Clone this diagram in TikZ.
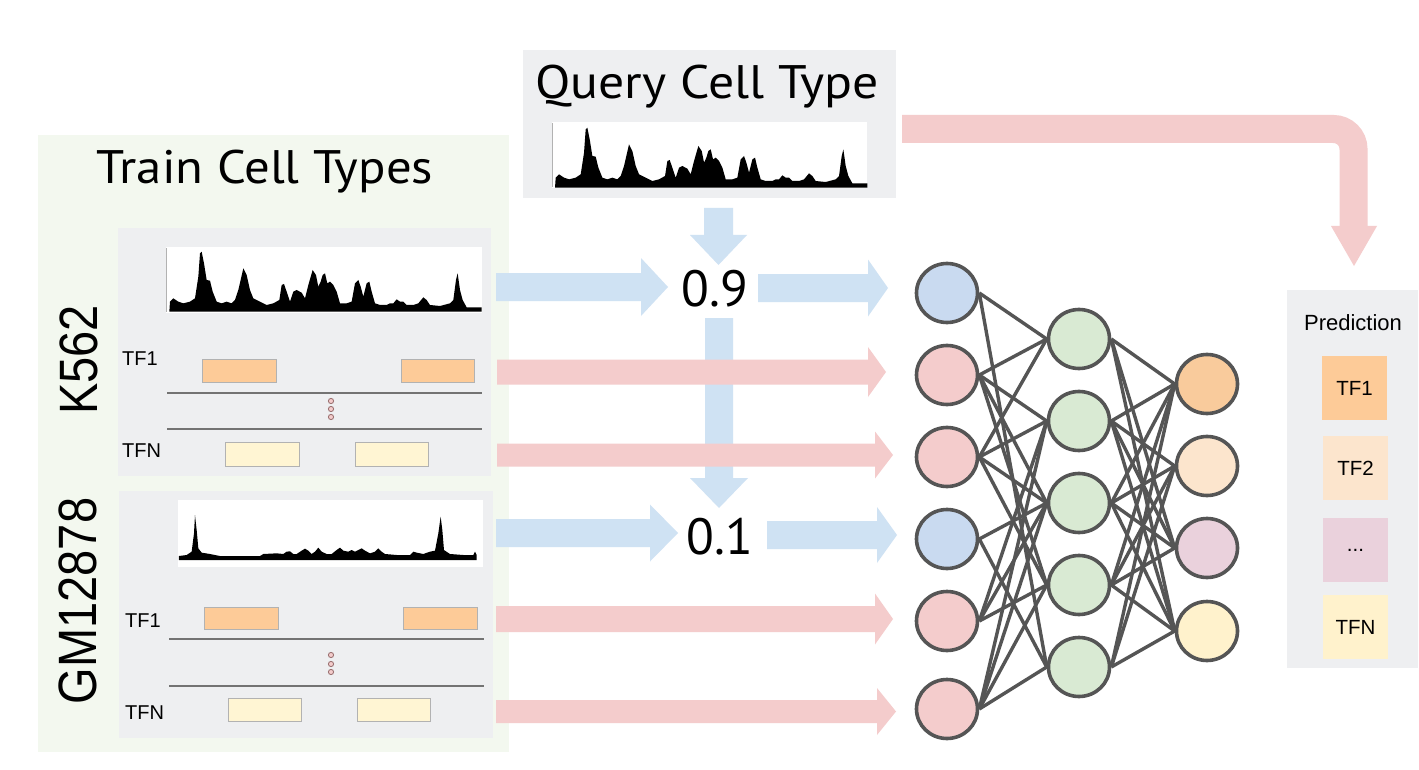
\documentclass[tikz,border=0pt]{standalone}
\usepackage{fontspec}
\newfontfamily\ptsans{PT Sans}
\newfontfamily\arialf{Liberation Sans}
\usetikzlibrary{shapes.geometric}
\definecolor{greenbg}{HTML}{F3F8EF}
\definecolor{panelgray}{HTML}{EEEFF1}
\definecolor{arrowblue}{HTML}{CFE2F3}
\definecolor{arrowred}{HTML}{F4CCCC}
\definecolor{nblue}{HTML}{C9DAF0}
\definecolor{npink}{HTML}{F4CCCC}
\definecolor{ngreen}{HTML}{D9EAD3}
\definecolor{norange}{HTML}{F9CB9C}
\definecolor{npeach}{HTML}{FCE5CD}
\definecolor{nmauve}{HTML}{EAD1DC}
\definecolor{nyellow}{HTML}{FFF2CC}
\definecolor{nline}{HTML}{555555}
\definecolor{barorange}{HTML}{FDCB98}
\definecolor{baryellow}{HTML}{FFF5D3}
\definecolor{dotline}{HTML}{9C7373}
\newcommand{\hblock}[7]{%
  \fill[#1] (#2,#4-#5) -- (#3-#7,#4-#5) -- (#3-#7,#4-#6) -- (#3,#4) -- (#3-#7,#4+#6) -- (#3-#7,#4+#5) -- (#2,#4+#5) -- cycle;}
\newcommand{\vblock}[7]{%
  \fill[#1] (#2-#5,#3) -- (#2-#5,#4-#7) -- (#2-#6,#4-#7) -- (#2,#4) -- (#2+#6,#4-#7) -- (#2+#5,#4-#7) -- (#2+#5,#3) -- cycle;}
\def\kpath{(418,275) -- (420,245) -- (430,235) -- (445,245) -- (460,250) -- (480,245) -- (495,235) -- (505,170) -- (510,100) -- (515,95) -- (522,130) -- (530,180) -- (540,182) -- (548,215) -- (560,245) -- (575,250) -- (590,245) -- (605,250) -- (615,240) -- (625,210) -- (640,145) -- (650,165) -- (660,210) -- (670,235) -- (690,245) -- (710,255) -- (730,250) -- (748,240) -- (755,195) -- (762,192) -- (770,215) -- (780,245) -- (790,215) -- (800,210) -- (815,218) -- (825,235) -- (835,195) -- (848,150) -- (858,165) -- (865,200) -- (872,185) -- (878,165) -- (885,160) -- (892,190) -- (900,185) -- (910,195) -- (920,215) -- (930,250) -- (950,250) -- (965,245) -- (975,190) -- (985,180) -- (992,200) -- (1000,230) -- (1010,190) -- (1018,185) -- (1025,215) -- (1035,250) -- (1050,255) -- (1070,255) -- (1080,250) -- (1090,250) -- (1100,238) -- (1110,245) -- (1120,245) -- (1130,255) -- (1150,255) -- (1165,250) -- (1180,232) -- (1190,240) -- (1200,255) -- (1230,258) -- (1260,250) -- (1270,240) -- (1278,180) -- (1283,160) -- (1290,210) -- (1298,240) -- (1310,262) -- (1355,262) -- (1355,275) -- cycle}
\def\gpath{(447,240) -- (447,228) -- (470,225) -- (485,215) -- (492,160) -- (495,105) -- (500,150) -- (505,205) -- (515,218) -- (540,222) -- (570,228) -- (600,228) -- (690,228) -- (700,222) -- (740,220) -- (760,222) -- (770,215) -- (780,214) -- (790,222) -- (800,222) -- (815,212) -- (825,206) -- (835,212) -- (845,222) -- (855,215) -- (865,203) -- (875,215) -- (890,222) -- (905,222) -- (920,210) -- (930,203) -- (940,212) -- (955,215) -- (965,210) -- (975,215) -- (985,210) -- (995,205) -- (1005,212) -- (1020,220) -- (1035,215) -- (1045,205) -- (1055,215) -- (1065,222) -- (1100,225) -- (1140,225) -- (1150,215) -- (1160,218) -- (1180,222) -- (1200,215) -- (1215,212) -- (1225,160) -- (1232,110) -- (1237,150) -- (1242,210) -- (1260,222) -- (1300,225) -- (1330,225) -- (1335,215) -- (1340,225) -- (1340,240) -- cycle}
\tikzset{
  nn/.style={ellipse, draw=nline, line width=3.6pt, minimum width=61pt, minimum height=59pt, inner sep=0pt},
  edge/.style={draw=nline, line width=3.4pt},
  bigtext/.style={font=\ptsans\fontsize{47}{47}\selectfont, inner sep=0pt},
  numtext/.style={font=\ptsans\fontsize{51}{51}\selectfont, inner sep=0pt},
  celltext/.style={font=\arialf\fontsize{54}{54}\selectfont, inner sep=0pt, rotate=90},
  tftext/.style={font=\arialf\fontsize{20}{20}\selectfont, inner sep=0pt, anchor=west},
  predtext/.style={font=\arialf\fontsize{20.5}{20.5}\selectfont, inner sep=0pt},
  obar/.style={fill=barorange, draw=black!30, line width=1pt},
  ybar/.style={fill=baryellow, draw=black!30, line width=1pt},
  sepline/.style={draw=black!55, line width=1.6pt},
  dotc/.style={draw=dotline, fill=npink, line width=0.9pt},
  trackbox/.style={fill=white},
}
\begin{document}
\begin{tikzpicture}[x=1pt,y=-1pt]
\useasboundingbox (0,0) rectangle (1419,770);
\fill[white] (0,0) rectangle (1419,770);
% backgrounds
\fill[greenbg] (38,135) rectangle (509,752);
\fill[panelgray] (118,228) rectangle (491,476);
\fill[panelgray] (119,491) rectangle (493,738);
\fill[panelgray] (523,50) rectangle (896,198);
\fill[panelgray] (1287,290) rectangle (1418,668);
% track boxes
\fill[trackbox] (166,247) rectangle (482,313);
\fill[trackbox] (178,500) rectangle (483,567);
\fill[trackbox] (552,122) rectangle (867,188);
\draw[black!30, line width=0.8pt] (166.5,248) -- (166.5,312);
\draw[black!30, line width=0.8pt] (552.5,123) -- (552.5,187);
\begin{scope}[shift={(30,220)}, scale=1/3]
  \fill[black] \kpath;
\end{scope}
\begin{scope}[shift={(415.7,96)}, scale=1/3]
  \fill[black] \kpath;
\end{scope}
\begin{scope}[shift={(30,480)}, scale=1/3]
  \fill[black] \gpath;
\end{scope}
% K562 bars
\draw[obar] (202,359) rectangle (276,382);
\draw[obar] (401,359) rectangle (474,382);
\draw[sepline] (167,393) -- (482,393);
\draw[sepline] (167,429) -- (482,429);
\draw[dotc] (331,401) circle (2.6);
\draw[dotc] (331,409) circle (2.6);
\draw[dotc] (331,417) circle (2.6);
\draw[ybar] (225,442) rectangle (299,466);
\draw[ybar] (355,442) rectangle (428,466);
% GM12878 bars
\draw[obar] (204,607) rectangle (278,629);
\draw[obar] (403,607) rectangle (477,629);
\draw[sepline] (169,639) -- (484,639);
\draw[sepline] (169,686) -- (484,686);
\draw[dotc] (331,655) circle (2.6);
\draw[dotc] (331,664) circle (2.6);
\draw[dotc] (331,672) circle (2.6);
\draw[ybar] (228,698) rectangle (301,721);
\draw[ybar] (357,698) rectangle (430,721);
% labels
\node[bigtext] (train) at (265,172) {\scalebox{1.08}[1]{Train Cell Types}};
\node[bigtext] (query) at (707,87) {\scalebox{1.1}[1]{Query Cell Type}};
\node[celltext] (k562) at (79,360) {\scalebox{0.87}[1]{K562}};
\node[celltext] (gm) at (78,601) {\scalebox{0.87}[1]{GM12878}};
\node[tftext] (ktf1) at (122,359) {TF1};
\node[tftext] (ktfn) at (122,451) {TFN};
\node[tftext] (gtf1) at (125,621) {TF1};
\node[tftext] (gtfn) at (125,713) {TFN};
% block arrows
\vblock{arrowblue}{718.5}{208}{265}{14.5}{28.5}{30}
\vblock{arrowblue}{719}{318}{508}{14}{29}{30}
\hblock{arrowblue}{496}{668}{287}{14}{29}{27}
\hblock{arrowblue}{758}{888}{288}{14}{28.5}{20}
\hblock{arrowred}{497}{886}{372}{12.5}{25}{18}
\hblock{arrowred}{497}{893}{455}{11.5}{23.5}{18}
\hblock{arrowblue}{496}{678}{533}{14}{28.5}{28}
\hblock{arrowblue}{767}{897}{535}{14}{28}{20}
\hblock{arrowred}{496}{893}{619}{13}{25.5}{18}
\hblock{arrowred}{496}{896}{711.5}{11.5}{23.5}{19}
% bent arrow
\draw[arrowred, line width=28pt, rounded corners=20pt] (902,129) -- (1353.5,129) -- (1353.5,227);
\fill[arrowred] (1331,226) -- (1377,226) -- (1354,266) -- cycle;
\node[numtext] (n09) at (715,289) {0.9};
\node[numtext] (n01) at (720,537) {0.1};
% network nodes
\node[nn, fill=nblue] (i1) at (947,293) {};
\node[nn, fill=npink] (i2) at (947,375) {};
\node[nn, fill=npink] (i3) at (947,457) {};
\node[nn, fill=nblue] (i4) at (947,539) {};
\node[nn, fill=npink] (i5) at (947,621) {};
\node[nn, fill=npink] (i6) at (947,709) {};
\node[nn, fill=ngreen] (h1) at (1079,339) {};
\node[nn, fill=ngreen] (h2) at (1079,421) {};
\node[nn, fill=ngreen] (h3) at (1079,503) {};
\node[nn, fill=ngreen] (h4) at (1079,585) {};
\node[nn, fill=ngreen] (h5) at (1079,667) {};
\node[nn, fill=norange] (o1) at (1207,384) {};
\node[nn, fill=npeach] (o2) at (1207,466) {};
\node[nn, fill=nmauve] (o3) at (1207,548) {};
\node[nn, fill=nyellow] (o4) at (1207,631) {};
% edges
\foreach \a/\b in {i1/h1,i1/h5,i2/h1,i2/h2,i2/h3,i2/h4,i3/h1,i3/h2,i3/h3,i3/h4,i4/h3,i4/h5,i5/h2,i5/h3,i5/h4,i6/h2,i6/h3,i6/h4,i6/h5}
  \draw[edge] (\a.east) -- (\b.west);
\foreach \a/\b in {h1/o1,h1/o3,h1/o4,h2/o1,h2/o2,h2/o3,h2/o4,h3/o1,h3/o2,h3/o3,h3/o4,h4/o1,h4/o2,h4/o3,h4/o4,h5/o1,h5/o2,h5/o4}
  \draw[edge] (\a.east) -- (\b.west);
% prediction
\node[predtext, font=\arialf\fontsize{22}{22}\selectfont] (pred) at (1353,323) {Prediction};
\fill[barorange] (1322,356) rectangle (1387,420);
\fill[npeach] (1323,436) rectangle (1388,500);
\fill[nmauve] (1323,518) rectangle (1388,582);
\fill[nyellow] (1323,595) rectangle (1388,659);
\node[predtext] (p1) at (1354.5,388) {TF1};
\node[predtext] (p2) at (1355.5,468) {TF2};
\node[predtext] (p3) at (1355.5,550) {...};
\node[predtext] (p4) at (1355.5,627) {TFN};
\end{tikzpicture}
\end{document}
